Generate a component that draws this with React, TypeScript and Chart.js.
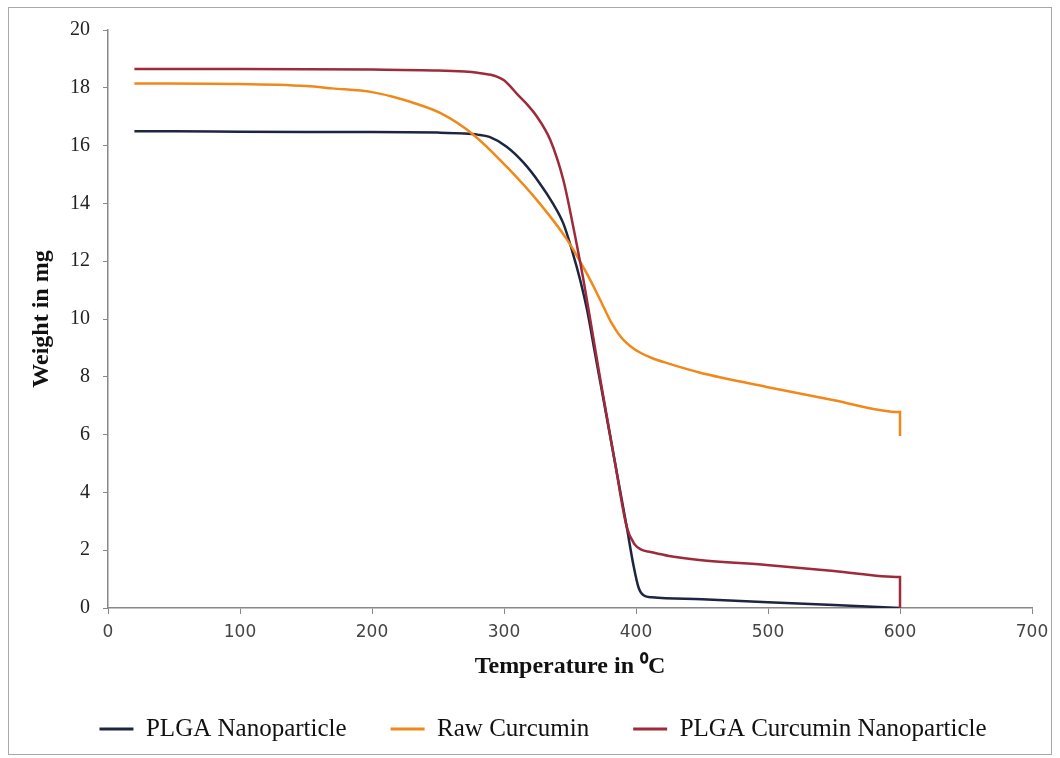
import React, { useEffect, useRef } from "react";
import { Chart, registerables } from "chart.js";

Chart.register(...registerables);

// PLGA Nanoparticle
const plgaTemp = [20, 50, 100, 150, 200, 250, 270, 280, 289, 302, 315, 327, 337, 345, 352, 358, 363, 368, 373, 384, 393, 398, 402, 406, 412, 450, 500, 550, 600];
const plgaWeight = [16.5, 16.5, 16.48, 16.47, 16.47, 16.45, 16.42, 16.38, 16.3, 15.96, 15.4, 14.7, 14.0, 13.3, 12.3, 11.3, 10.3, 9.05, 7.8, 5.05, 2.8, 1.5, 0.7, 0.43, 0.37, 0.3, 0.2, 0.1, 0.0];

// Raw Curcumin
const curTemp = [20, 100, 150, 170, 200, 215, 230, 252, 277, 302, 327, 348, 363, 373, 381, 389, 396, 403, 412, 423, 448, 499, 549, 600, 600];
const curWeight = [18.15, 18.13, 18.06, 17.98, 17.85, 17.7, 17.5, 17.12, 16.37, 15.27, 14.0, 12.73, 11.55, 10.65, 9.9, 9.35, 9.05, 8.84, 8.65, 8.48, 8.15, 7.65, 7.2, 6.78, 5.95];

// PLGA Curcumin Nanoparticle
const pcnTemp = [20, 100, 200, 250, 270, 280, 290, 295, 300, 305, 310, 318, 325, 335, 345, 352, 360, 366, 373, 384, 393, 399, 404, 411, 425, 448, 499, 550, 600, 600];
const pcnWeight = [18.65, 18.65, 18.63, 18.6, 18.56, 18.52, 18.45, 18.38, 18.26, 18.04, 17.78, 17.4, 17.0, 16.2, 14.8, 13.3, 11.4, 9.8, 7.9, 5.05, 2.8, 2.2, 2.02, 1.94, 1.8, 1.66, 1.49, 1.28, 1.07, 0];

const seriesNames = ["PLGA Nanoparticle", "Raw Curcumin", "PLGA Curcumin Nanoparticle"];
const seriesColors = ["#1e2540", "#f0881a", "#9e2a3a"];

const xTitle = "Temperature in \u2070C";
const yTitle = "Weight in mg";

const toPts = (xs: number[], ys: number[]) => xs.map((x, i) => ({ x, y: ys[i] }));

const serif = "'Liberation Serif', 'Times New Roman', serif";

export default function App() {
  const ref = useRef<HTMLCanvasElement | null>(null);

  useEffect(() => {
    if (!ref.current) return;
    const data = [toPts(plgaTemp, plgaWeight), toPts(curTemp, curWeight), toPts(pcnTemp, pcnWeight)];
    const orders = [2, 1, -1];
    const chart = new Chart(ref.current, {
      type: "line",
      data: {
        datasets: data.map((d, i) => ({
          label: seriesNames[i],
          data: d,
          borderColor: seriesColors[i],
          backgroundColor: seriesColors[i],
          borderWidth: 2.5,
          pointRadius: 0,
          fill: false,
          cubicInterpolationMode: "monotone" as const,
          order: orders[i],
        })),
      },
      options: {
        animation: false,
        responsive: false,
        maintainAspectRatio: false,
        layout: { padding: { top: 30, right: 28, left: 54, bottom: 6.5 } },
        plugins: {
          tooltip: { enabled: false },
          legend: {
            position: "bottom",
            labels: {
              font: { family: serif, size: 25 },
              color: "#111",
              boxWidth: 34,
              boxHeight: 3,
              padding: 44,
              sort: (a: any, b: any) => a.datasetIndex - b.datasetIndex,
              generateLabels: (c: any) =>
                Chart.defaults.plugins.legend.labels.generateLabels(c).map((l: any) => ({ ...l, lineWidth: 0 })),
            },
          },
        },
        scales: {
          x: {
            type: "linear",
            min: 0,
            max: 700,
            ticks: {
              stepSize: 100,
              padding: 8,
              color: "#444",
              font: { family: "'DejaVu Sans', Verdana, sans-serif", size: 17 },
            },
            grid: { display: true, drawOnChartArea: false, drawTicks: true, tickLength: 6, color: "#888" },
            border: { display: true, color: "#888", width: 1.5 },
            title: {
              display: true,
              text: xTitle,
              color: "#111",
              padding: { top: 0, bottom: -9 },
              font: { family: serif, size: 24, weight: "bold" },
            },
            afterFit: (s: any) => {
              s.height = 64.5;
            },
          },
          y: {
            type: "linear",
            min: 0,
            max: 20,
            ticks: {
              stepSize: 2,
              padding: 13,
              color: "#222",
              font: { family: serif, size: 20 },
            },
            grid: { display: true, drawOnChartArea: false, drawTicks: true, tickLength: 5, color: "#888" },
            border: { display: true, color: "#888", width: 1.5 },
            title: {
              display: true,
              text: yTitle,
              color: "#111",
              padding: { top: -26.4, bottom: 0 },
              font: { family: serif, size: 24, weight: "bold" },
            },
            afterFit: (s: any) => {
              s.width = 54;
            },
          },
        },
      },
    });
    return () => chart.destroy();
  }, []);

  return (
    <div style={{ position: "absolute", left: 0, top: 0, width: 1060, height: 758, background: "#fff" }}>
      <div
        style={{
          position: "absolute",
          left: 8,
          top: 7,
          width: 1042,
          height: 746,
          border: "1px solid #a8a8a8",
        }}
      />
      <canvas ref={ref} width={1060} height={758} style={{ position: "absolute", left: 0, top: 0, width: 1060, height: 758 }} />
    </div>
  );
}
